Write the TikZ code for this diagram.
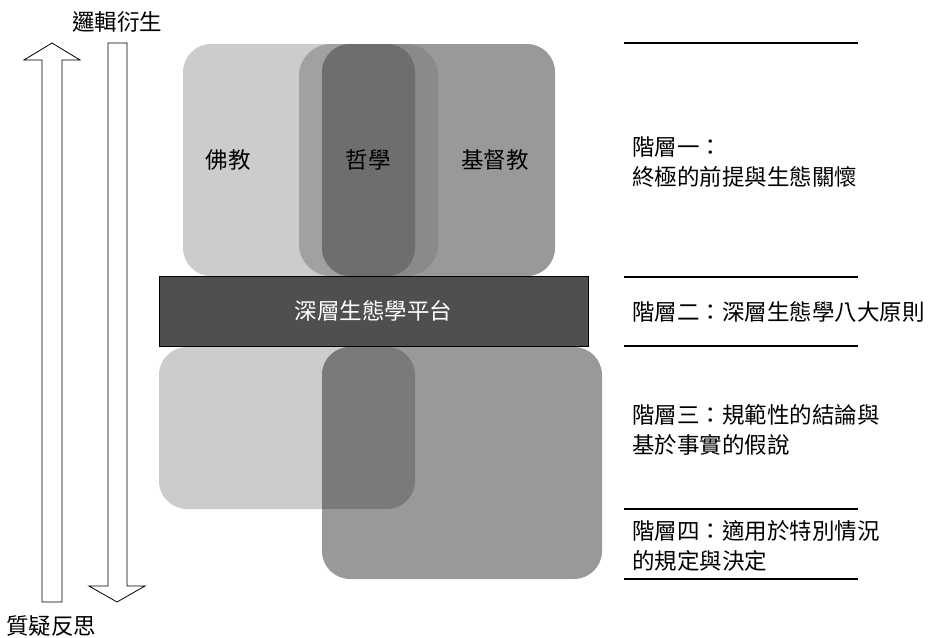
\documentclass[tikz,border=0pt]{standalone}
\usepackage{fontspec}
\setmainfont{Noto Sans CJK TC}
\definecolor{cB}{gray}{0.80}
\definecolor{cC}{gray}{0.60}
\definecolor{cPB}{gray}{0.63}
\definecolor{cPC}{gray}{0.54}
\definecolor{cBC}{gray}{0.43}
\definecolor{cLR}{gray}{0.48}
\definecolor{cBar}{gray}{0.31}
\begin{document}
\begin{tikzpicture}[x=1pt,y=-1pt,
  lbl/.style={font=\fontsize{22.5}{30}\selectfont, inner sep=0pt},
  rlbl/.style={lbl, anchor=west, align=left},
  sepline/.style={line width=2pt},
  blockarrow/.style={draw=black, line width=0.8pt, fill=white},
  box/.style={rounded corners=28pt},
]
\useasboundingbox (0,0) rectangle (936,637);

% left block arrows
\draw[blockarrow] (52,43) -- (80,60) -- (62,60) -- (62,602) -- (42,602) -- (42,60) -- (24,60) -- cycle;
\draw[blockarrow] (108,43) -- (127,43) -- (127,586) -- (145,586) -- (117,602) -- (89,586) -- (108,586) -- cycle;
\node[lbl] (deduce) at (117,22) {邏輯衍生};
\node[lbl] (question) at (51,626) {質疑反思};

% top boxes
\fill[cB, box] (183,44) rectangle (415,276);
\fill[cC, box] (322,44) rectangle (555,276);
\begin{scope}
  \clip[box] (183,44) rectangle (415,276);
  \fill[cPB, rounded corners=32pt] (299,44) rectangle (438,276);
\end{scope}
\begin{scope}
  \clip[box] (322,44) rectangle (555,276);
  \fill[cPC, rounded corners=32pt] (299,44) rectangle (438,276);
  \clip[box] (183,44) rectangle (415,276);
  \fill[cBC] (299,44) rectangle (438,276);
\end{scope}
\node[lbl] (buddhism) at (228,160) {佛教};
\node[lbl] (philosophy) at (368,160) {哲學};
\node[lbl] (christianity) at (495,160) {基督教};

% platform
\node[draw=black, fill=cBar, line width=1pt, minimum width=429pt, minimum height=70pt,
      text=white, font=\fontsize{22.5}{30}\selectfont, inner sep=0pt] (platform) at (373.5,311) {深層生態學平台};

% bottom boxes
\fill[cB, box] (159,347) rectangle (415,509);
\fill[cC, box] (322,347) rectangle (602,579);
\begin{scope}
  \clip[box] (159,347) rectangle (415,509);
  \fill[cLR, box] (322,347) rectangle (602,579);
\end{scope}

% right separators
\draw[sepline] (624,43) -- (858,43);
\draw[sepline] (624,277) -- (858,277);
\draw[sepline] (624,346) -- (858,346);
\draw[sepline] (624,509) -- (858,509);
\draw[sepline] (624,579) -- (858,579);

% right labels
\node[rlbl] (lv1) at (632,162.5) {階層一：\\終極的前提與生態關懷};
\node[rlbl] (lv2) at (632,312) {階層二：深層生態學八大原則};
\node[rlbl] (lv3) at (632,430) {階層三：規範性的結論與\\基於事實的假說};
\node[rlbl] (lv4) at (632,546) {階層四：適用於特別情況\\的規定與決定};
\end{tikzpicture}
\end{document}
